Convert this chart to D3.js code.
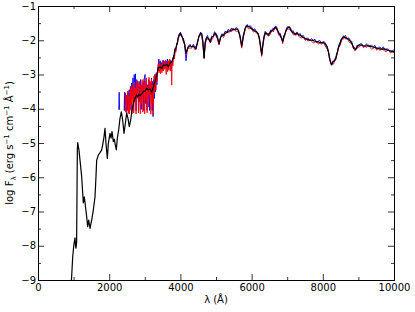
<!DOCTYPE html>
<html><head><meta charset="utf-8">
<script src="https://cdn.jsdelivr.net/npm/d3@7"></script>
<style>body{margin:0;background:#fff} text{font-family:"DejaVu Sans",sans-serif}</style>
</head><body><svg id="c" width="415" height="312"></svg>
<script>
// ---- data ----
const lamUV = [940,975,1010,1040,1055,1067,1085,1105,1115,1150,1180,1227,1255,1273,1301,1329,1367,1395,1423,1461,1489,1517,1554,1601,1629,1648,1695,1742,1788,1816,1854,1882,1910,1948,1976,2022,2051,2079,2116,2144,2172,2200,2228,2266,2303,2341,2378,2416,2453,2491,2528,2565,2600,2640,2690,2730,2771,2800,2835,2865,2920,2958,3015,3052,3099,3150,3193,3230,3287,3343,3380,3430,3474,3520,3567,3620,3661,3708,3755,3790,3820,3848,3876,3914,3941,3970];
const blackUV = [-9.0,-8.32,-7.95,-7.77,-8.0,-8.07,-7.9,-5.2,-4.99,-5.2,-5.5,-5.98,-6.46,-6.75,-6.57,-6.81,-7.15,-7.44,-7.25,-7.49,-7.35,-7.20,-6.96,-6.57,-5.98,-5.50,-5.35,-5.28,-5.20,-5.06,-4.82,-4.57,-5.01,-5.45,-5.01,-4.72,-4.86,-4.67,-4.96,-4.89,-5.06,-5.20,-4.86,-4.62,-4.28,-4.09,-4.33,-4.72,-4.43,-4.13,-4.28,-4.52,-4.35,-4.05,-3.80,-3.68,-3.60,-3.66,-3.58,-3.62,-3.55,-3.50,-3.48,-3.40,-3.45,-3.42,-3.52,-3.40,-3.21,-3.00,-2.80,-2.78,-2.82,-2.72,-2.74,-2.70,-2.77,-2.67,-2.63,-2.55,-2.43,-2.28,-2.22,-2.09,-1.94,-1.84];

const lamSmooth = [4000,4040,4082,4120,4157,4190,4222,4270,4317,4363,4400,4438,4480,4520,4570,4600,4630,4665,4695,4725,4760,4800,4840,4880,4925,4960,5000,5040,5084,5131,5170,5206,5253,5300,5346,5393,5440,5487,5534,5581,5627,5674,5722,5767,5815,5850,5879,5915,5955,6000,6048,6095,6143,6180,6216,6256,6284,6312,6348,6380,6404,6440,6469,6500,6536,6575,6610,6640,6666,6695,6722,6760,6798,6840,6874,6905,6938,6970,7003,7051,7090,7126,7170,7219,7250,7284,7320,7360,7405,7452,7500,7547,7590,7640,7685,7733,7780,7828,7875,7921,7970,8014,8050,8090,8125,8155,8180,8202,8225,8250,8275,8295,8320,8343,8365,8390,8410,8435,8460,8483,8515,8548,8575,8604,8640,8671,8710,8745,8780,8812,8845,8876,8905,8933,8965,8997,9045,9093,9140,9185,9230,9278,9325,9374,9420,9466,9512,9559,9605,9654,9700,9747,9795,9840,9900,9963,10000];
const blackSmooth = [-1.80,-1.88,-1.99,-2.12,-2.38,-2.28,-2.20,-2.16,-2.19,-2.17,-2.21,-2.25,-2.05,-1.90,-1.80,-1.81,-2.05,-2.52,-2.10,-1.95,-1.92,-1.97,-2.05,-1.92,-1.88,-1.80,-1.82,-1.94,-2.09,-1.92,-1.85,-1.85,-1.79,-1.78,-1.73,-1.73,-1.70,-1.68,-1.69,-1.67,-1.70,-1.90,-2.17,-1.90,-1.66,-1.60,-1.58,-1.60,-1.62,-1.67,-1.70,-1.73,-1.75,-1.82,-1.94,-2.19,-2.43,-2.19,-1.90,-1.80,-1.78,-1.83,-1.85,-1.80,-1.75,-1.72,-1.70,-1.65,-1.62,-1.65,-1.70,-1.78,-1.85,-1.95,-2.04,-1.92,-1.80,-1.72,-1.65,-1.60,-1.68,-1.75,-1.78,-1.82,-1.81,-1.80,-1.84,-1.85,-1.89,-1.92,-1.94,-1.97,-1.98,-2.00,-2.00,-2.01,-2.03,-2.04,-2.05,-2.07,-2.07,-2.07,-2.10,-2.14,-2.22,-2.33,-2.46,-2.58,-2.66,-2.72,-2.66,-2.63,-2.61,-2.58,-2.52,-2.43,-2.34,-2.24,-2.16,-2.09,-2.01,-1.94,-1.91,-1.90,-1.92,-1.94,-1.96,-1.99,-2.04,-2.09,-2.16,-2.24,-2.26,-2.26,-2.20,-2.14,-2.14,-2.14,-2.16,-2.17,-2.16,-2.16,-2.18,-2.19,-2.20,-2.21,-2.23,-2.24,-2.25,-2.26,-2.25,-2.26,-2.28,-2.30,-2.31,-2.33,-2.33];
const redSmooth = [-1.84,-1.86,-2.05,-2.13,-2.43,-2.25,-2.23,-2.23,-2.23,-2.15,-2.27,-2.26,-2.10,-1.87,-1.83,-1.88,-2.09,-2.50,-2.16,-1.96,-1.97,-1.94,-2.08,-1.99,-1.92,-1.78,-1.88,-1.95,-2.14,-1.89,-1.88,-1.92,-1.83,-1.76,-1.79,-1.74,-1.75,-1.65,-1.72,-1.74,-1.74,-1.88,-2.23,-1.91,-1.71,-1.57,-1.61,-1.67,-1.66,-1.65,-1.76,-1.74,-1.80,-1.79,-1.97,-2.26,-2.47,-2.17,-1.96,-1.81,-1.83,-1.80,-1.88,-1.87,-1.79,-1.70,-1.76,-1.66,-1.67,-1.62,-1.73,-1.85,-1.89,-1.93,-2.10,-1.93,-1.85,-1.69,-1.68,-1.67,-1.72,-1.73,-1.84,-1.83,-1.86,-1.77,-1.87,-1.92,-1.93,-1.90,-2.00,-1.98,-2.03,-1.97,-2.03,-2.08,-2.07,-2.02,-2.11,-2.08,-2.12,-2.04,-2.13,-2.21,-2.26,-2.31,-2.52,-2.59,-2.71,-2.69,-2.69,-2.70,-2.65,-2.56,-2.58,-2.44,-2.39,-2.21,-2.19,-2.16,-2.05,-1.92,-1.97,-1.91,-1.97,-1.91,-1.99,-2.06,-2.08,-2.07,-2.22,-2.25,-2.31,-2.23,-2.23,-2.21,-2.18,-2.12,-2.22,-2.18,-2.21,-2.13,-2.21,-2.26,-2.24,-2.19,-2.29,-2.25,-2.30,-2.23,-2.28,-2.33,-2.32,-2.28,-2.37,-2.34,-2.38];
const blueSmooth = [-1.76,-1.90,-1.94,-2.11,-2.60,-2.31,-2.17,-2.12,-2.21,-2.12,-2.20,-2.19,-2.08,-1.87,-1.76,-1.83,-2.00,-2.53,-2.05,-1.94,-1.86,-2.00,-2.02,-1.88,-1.90,-1.75,-1.81,-1.88,-2.12,-1.89,-1.81,-1.87,-1.74,-1.76,-1.68,-1.72,-1.64,-1.71,-1.66,-1.63,-1.72,-1.85,-2.16,-1.84,-1.69,-1.57,-1.54,-1.62,-1.57,-1.62,-1.69,-1.67,-1.77,-1.79,-1.90,-2.21,-2.40,-2.14,-1.89,-1.74,-1.81,-1.80,-1.81,-1.82,-1.70,-1.71,-1.64,-1.68,-1.59,-1.60,-1.66,-1.80,-1.79,-1.92,-2.03,-1.86,-1.82,-1.68,-1.61,-1.62,-1.63,-1.74,-1.72,-1.85,-1.78,-1.76,-1.86,-1.80,-1.88,-1.86,-1.97,-1.94,-1.94,-2.02,-1.95,-2.00,-1.97,-2.07,-2.02,-2.01,-2.09,-2.03,-2.05,-2.13,-2.17,-2.32,-2.43,-2.57,-2.68,-2.68,-2.61,-2.59,-2.62,-2.53,-2.54,-2.37,-2.37,-2.21,-2.12,-2.08,-1.96,-1.96,-1.87,-1.89,-1.86,-1.97,-1.93,-1.95,-2.03,-2.03,-2.18,-2.21,-2.22,-2.25,-2.14,-2.17,-2.11,-2.10,-2.18,-2.16,-2.10,-2.19,-2.15,-2.15,-2.19,-2.15,-2.25,-2.21,-2.20,-2.25,-2.19,-2.29,-2.25,-2.26,-2.33,-2.30,-2.28];

const redNoisyLam = [2445,2460,2478,2492,2510,2525,2540,2556,2572,2590,2605,2620,2638,2655,2670,2688,2705,2722,2738,2755,2772,2790,2806,2822,2840,2857,2875,2892,2910,2926,2944,2962,2980,2996,3014,3030,3048,3065,3082,3100,3118,3135,3152,3170,3188,3205,3222,3240,3258,3275,3292,3310,3328,3345,3362,3380,3400,3420,3440,3460,3480,3500,3520,3540,3560,3580,3600,3620,3640,3660,3680,3700,3720,3740,3755,3770,3790,3810,3830,3850,3870,3890,3910,3930,3950,3970,3990];
const redNoisyVal = [-3.52,-4.10,-3.60,-4.12,-3.75,-3.48,-4.14,-3.62,-4.15,-3.42,-3.90,-3.35,-4.15,-3.55,-3.30,-4.12,-3.22,-3.80,-3.40,-4.15,-3.18,-3.70,-3.28,-4.12,-3.45,-3.20,-4.15,-3.30,-3.85,-3.15,-4.10,-3.40,-3.12,-4.15,-3.25,-3.75,-3.10,-4.12,-3.35,-3.95,-3.08,-3.60,-3.20,-4.16,-3.15,-3.85,-3.30,-4.18,-3.05,-3.55,-3.00,-3.45,-2.95,-3.20,-2.85,-2.70,-2.95,-2.62,-2.98,-2.70,-2.95,-2.60,-2.90,-2.65,-2.85,-2.58,-3.00,-2.65,-2.92,-2.60,-2.88,-2.55,-2.85,-2.62,-3.31,-2.60,-2.75,-2.45,-2.55,-2.25,-2.35,-2.15,-2.12,-1.95,-1.92,-1.82,-1.86];
const blueNoisyLam = [2270,2280,2292,null,2420,2430,2440,2455,2472,2490,2508,2525,2543,2560,2578,2596,2615,2632,2650,2668,2686,2703,2720,2738,2756,2774,2792,2810,2828,2846,2864,2882,2900,2918,2936,2954,2972,2990,3008,3026,3044,3062,3080,3098,3116,3134,3152,3170,3188,3206,3224,3232,3250,3268,3286,3304,3322,3340,3358,3376,3395,3415,3435,3455,3475,3495,3515,3535,3555,3575,3595,3615,3635,3655,3675,3695,3715,3735,3755,3775,3795,3815,3835,3855,3875,3895,3915,3935,3955,3975,3995];
const blueNoisyVal = [-4.03,-3.52,-4.03,null,-4.05,-3.52,-4.05,-3.55,-4.05,-3.60,-4.05,-3.50,-3.90,-3.45,-4.05,-3.35,-4.02,-3.25,-3.70,-3.10,-4.05,-3.00,-3.60,-2.98,-4.05,-3.15,-3.55,-3.20,-4.05,-3.35,-3.80,-3.15,-4.02,-3.30,-3.65,-3.20,-4.05,-3.10,-3.00,-3.85,-3.20,-4.05,-3.30,-3.70,-3.15,-4.05,-3.25,-3.60,-3.10,-4.05,-3.20,-4.23,-3.15,-3.70,-3.00,-3.50,-2.95,-3.30,-2.85,-2.75,-2.55,-2.90,-2.60,-2.85,-2.65,-2.88,-2.58,-2.80,-2.62,-2.82,-2.60,-2.78,-2.55,-2.85,-2.60,-2.75,-2.58,-2.90,-2.62,-2.70,-2.50,-2.45,-2.50,-2.22,-2.30,-2.08,-2.10,-1.92,-1.88,-1.80,-1.85];

const xMajor = [0,2000,4000,6000,8000,10000];
const xMinor = [1000,3000,5000,7000,9000];
const yMajor = [-9,-8,-7,-6,-5,-4,-3,-2,-1];
const yMinor = [-8.5,-7.5,-6.5,-5.5,-4.5,-3.5,-2.5,-1.5];

// ---- chart ----
const svg = d3.select("#c");
const X0=38, X1=394, Y0=6, Y1=280;
const x = d3.scaleLinear().domain([0,10000]).range([X0,X1]);
const y = d3.scaleLinear().domain([-9,-1]).range([Y1,Y0]);

svg.append("defs").append("clipPath").attr("id","clip")
  .append("rect").attr("x",X0).attr("y",Y0).attr("width",X1-X0).attr("height",Y1-Y0);

const zip = (a,b)=>a.map((v,i)=>[v,b[i]]);
const blackData = zip(lamUV,blackUV).concat(zip(lamSmooth,blackSmooth));
const redData = zip(redNoisyLam,redNoisyVal).concat(zip(lamSmooth,redSmooth));
const blueData = zip(blueNoisyLam,blueNoisyVal).concat(zip(lamSmooth,blueSmooth));

const line = d3.line().defined(d=>d[0]!=null && d[1]!=null).x(d=>x(d[0])).y(d=>y(d[1]));
const g = svg.append("g").attr("clip-path","url(#clip)");
g.append("path").datum(blueData).attr("d",line).attr("fill","none").attr("stroke","#0000ff").attr("stroke-width",0.9);
g.append("path").datum(redData).attr("d",line).attr("fill","none").attr("stroke","#ff0000").attr("stroke-width",0.9);
g.append("path").datum(blackData).attr("d",line).attr("fill","none").attr("stroke","#000").attr("stroke-width",1.2).attr("stroke-linejoin","round");

const fmt = d=> d3.format("d")(d).replace("-","\u2212");
function styleAxis(sel){
  sel.selectAll("path.domain").attr("stroke","#000").attr("stroke-width",1);
  sel.selectAll(".tick line").attr("stroke","#000").attr("stroke-width",0.8);
  sel.selectAll("text").attr("font-family","DejaVu Sans").attr("font-size",10).attr("fill","#000");
}
styleAxis(svg.append("g").attr("transform",`translate(0,${Y1})`)
  .call(d3.axisBottom(x).tickValues(xMajor).tickSize(-6).tickSizeOuter(0).tickPadding(4).tickFormat(fmt)));
styleAxis(svg.append("g").attr("transform",`translate(0,${Y1})`)
  .call(d3.axisBottom(x).tickValues(xMinor).tickSize(-3).tickSizeOuter(0).tickFormat("")));
styleAxis(svg.append("g").attr("transform",`translate(0,${Y0})`)
  .call(d3.axisTop(x).tickValues(xMajor).tickSize(-6).tickSizeOuter(0).tickFormat("")));
styleAxis(svg.append("g").attr("transform",`translate(0,${Y0})`)
  .call(d3.axisTop(x).tickValues(xMinor).tickSize(-3).tickSizeOuter(0).tickFormat("")));
styleAxis(svg.append("g").attr("transform",`translate(${X0},0)`)
  .call(d3.axisLeft(y).tickValues(yMajor).tickSize(-6).tickSizeOuter(0).tickPadding(2).tickFormat(fmt)));
styleAxis(svg.append("g").attr("transform",`translate(${X0},0)`)
  .call(d3.axisLeft(y).tickValues(yMinor).tickSize(-3).tickSizeOuter(0).tickFormat("")));
styleAxis(svg.append("g").attr("transform",`translate(${X1},0)`)
  .call(d3.axisRight(y).tickValues(yMajor).tickSize(-6).tickSizeOuter(0).tickFormat("")));
styleAxis(svg.append("g").attr("transform",`translate(${X1},0)`)
  .call(d3.axisRight(y).tickValues(yMinor).tickSize(-3).tickSizeOuter(0).tickFormat("")));

svg.append("text").attr("x",(X0+X1)/2).attr("y",303).attr("text-anchor","middle")
  .attr("font-size",10).text("\u03bb (\u00c5)");
const yt = svg.append("text").attr("transform",`translate(13,${(Y0+Y1)/2}) rotate(-90)`)
  .attr("text-anchor","middle").attr("font-size",10);
yt.append("tspan").text("log F");
yt.append("tspan").attr("font-size",7).attr("dy",2.5).text("\u03bb");
yt.append("tspan").attr("dy",-2.5).text(" (erg s");
yt.append("tspan").attr("font-size",7).attr("dy",-4).text("\u22121");
yt.append("tspan").attr("dy",4).text(" cm");
yt.append("tspan").attr("font-size",7).attr("dy",-4).text("\u22121");
yt.append("tspan").attr("dy",4).text(" \u00c5");
yt.append("tspan").attr("font-size",7).attr("dy",-4).text("\u22121");
yt.append("tspan").attr("dy",4).text(")");
</script></body></html>
